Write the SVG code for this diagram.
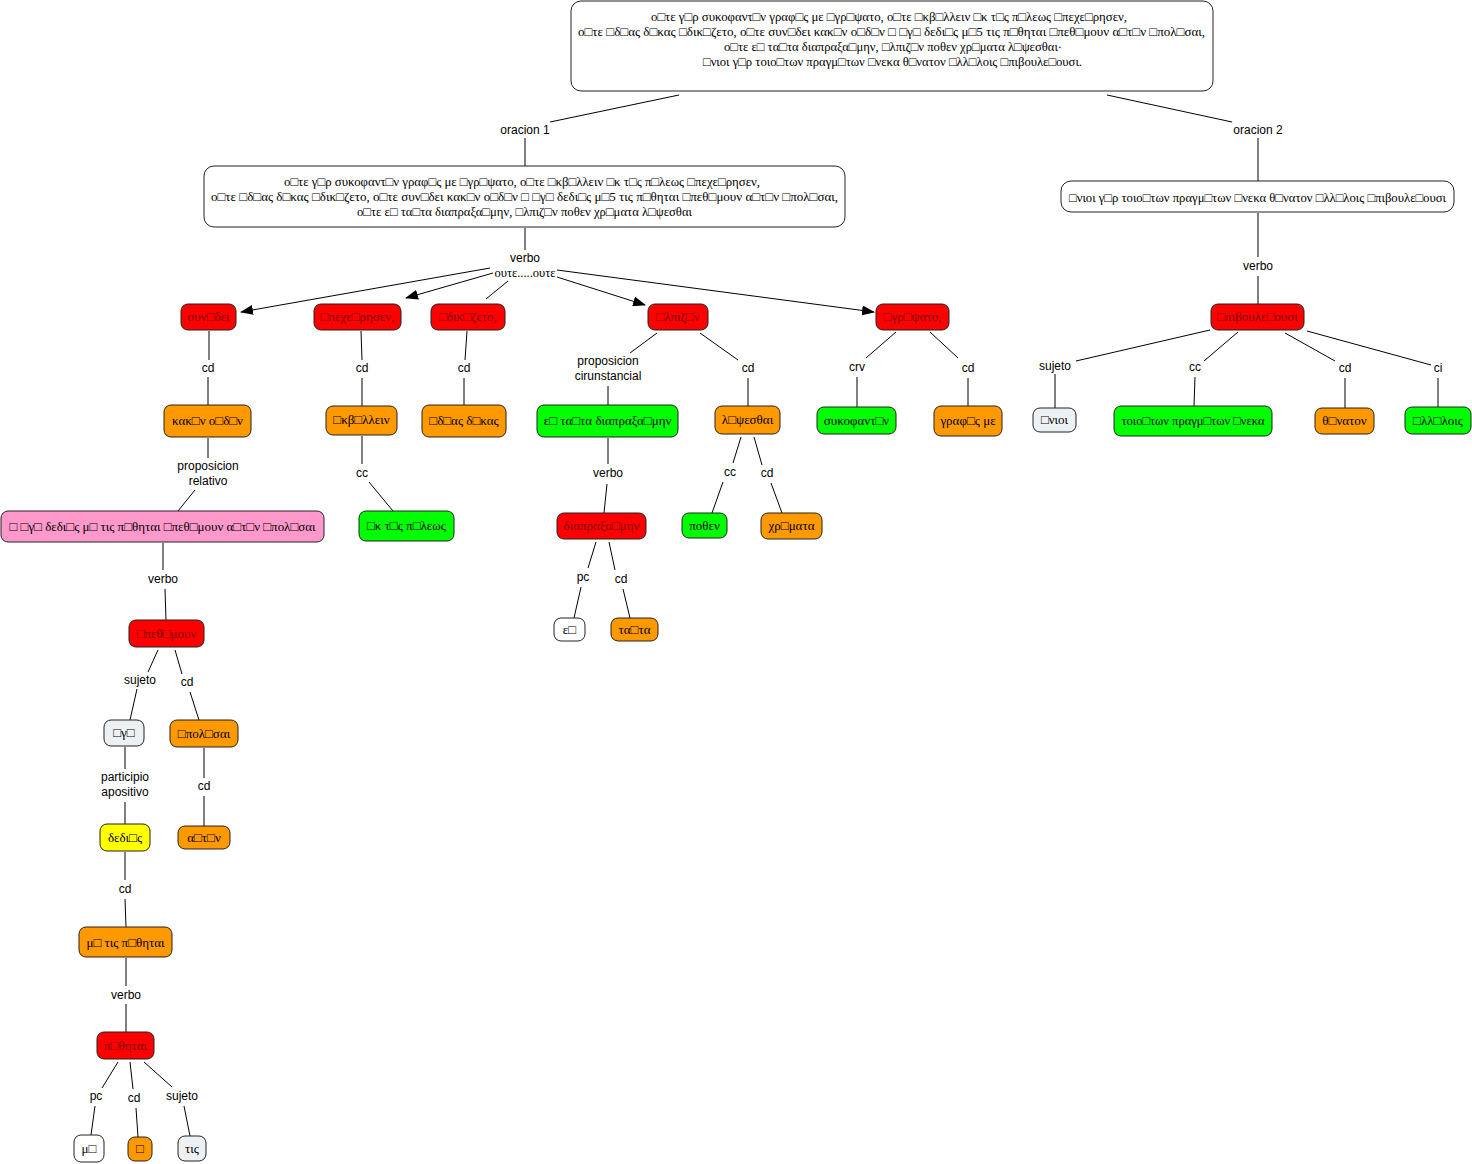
<svg xmlns="http://www.w3.org/2000/svg" width="1472" height="1164" viewBox="0 0 1472 1164">
<style>
.n{stroke:#222;stroke-width:1}
.big{fill:#fff}
.red{fill:#ff0000}
.org{fill:#ff9900}
.grn{fill:#00ff00}
.pnk{fill:#ff99cc}
.yel{fill:#ffff00}
.lgt{fill:#edf1f4}
.wht{fill:#fff}
.t{font-family:"Liberation Serif","Times New Roman",serif;font-size:13px;fill:#000;text-anchor:middle}
.tb{font-family:"Liberation Serif","Times New Roman",serif;font-size:12.5px;fill:#000;text-anchor:middle}
.tr{font-family:"Liberation Serif","Times New Roman",serif;font-size:13px;fill:#7a0000;text-anchor:middle}
.l{font-family:"Liberation Sans",Arial,sans-serif;font-size:12px;fill:#000;text-anchor:middle}
.ls{font-family:"Liberation Serif","Times New Roman",serif;font-size:12.5px;fill:#000;text-anchor:middle}
.c line{stroke:#000;stroke-width:1}
</style>
<defs>
<marker id="ah" markerWidth="13" markerHeight="10" refX="12" refY="5" orient="auto" markerUnits="userSpaceOnUse">
<path d="M0,0 L13,5 L0,10 z" fill="#000"/>
</marker>
</defs>

<g class="c" id="connectors">
<line x1="679" y1="95" x2="550" y2="122"/>
<line x1="525" y1="138" x2="525" y2="166"/>
<line x1="1107" y1="95" x2="1232" y2="122"/>
<line x1="1258" y1="138" x2="1258" y2="181"/>
<line x1="525" y1="228" x2="525" y2="250"/>
<line x1="490" y1="268" x2="241" y2="312" marker-end="url(#ah)"/>
<line x1="493" y1="273" x2="406" y2="298" marker-end="url(#ah)"/>
<line x1="508" y1="281" x2="486" y2="299"/>
<line x1="557" y1="277" x2="645" y2="305" marker-end="url(#ah)"/>
<line x1="557" y1="270" x2="874" y2="312" marker-end="url(#ah)"/>
<line x1="209" y1="331" x2="209" y2="360"/>
<line x1="208" y1="377" x2="208" y2="405"/>
<line x1="208" y1="438" x2="208" y2="458"/>
<line x1="195" y1="490" x2="178" y2="511"/>
<line x1="163" y1="543" x2="163" y2="570"/>
<line x1="165" y1="589" x2="166" y2="620"/>
<line x1="158" y1="650" x2="148" y2="672"/>
<line x1="137" y1="689" x2="130" y2="720"/>
<line x1="175" y1="650" x2="182" y2="674"/>
<line x1="190" y1="692" x2="199" y2="720"/>
<line x1="125" y1="747" x2="125" y2="769"/>
<line x1="125" y1="802" x2="125" y2="824"/>
<line x1="204" y1="748" x2="204" y2="778"/>
<line x1="204" y1="796" x2="204" y2="826"/>
<line x1="125" y1="852" x2="125" y2="880"/>
<line x1="125" y1="899" x2="126" y2="927"/>
<line x1="126" y1="958" x2="126" y2="986"/>
<line x1="126" y1="1004" x2="126" y2="1032"/>
<line x1="118" y1="1062" x2="102" y2="1088"/>
<line x1="95" y1="1106" x2="91" y2="1135"/>
<line x1="130" y1="1062" x2="133" y2="1089"/>
<line x1="136" y1="1108" x2="138" y2="1137"/>
<line x1="144" y1="1062" x2="172" y2="1087"/>
<line x1="184" y1="1106" x2="190" y2="1136"/>
<line x1="361" y1="331" x2="362" y2="360"/>
<line x1="362" y1="378" x2="362" y2="406"/>
<line x1="362" y1="436" x2="362" y2="464"/>
<line x1="369" y1="482" x2="393" y2="511"/>
<line x1="467" y1="331" x2="465" y2="360"/>
<line x1="464" y1="378" x2="464" y2="405"/>
<line x1="657" y1="333" x2="630" y2="353"/>
<line x1="608" y1="386" x2="608" y2="405"/>
<line x1="700" y1="333" x2="738" y2="360"/>
<line x1="748" y1="378" x2="748" y2="406"/>
<line x1="608" y1="438" x2="608" y2="464"/>
<line x1="607" y1="484" x2="604" y2="513"/>
<line x1="596" y1="542" x2="588" y2="568"/>
<line x1="581" y1="587" x2="574" y2="618"/>
<line x1="609" y1="542" x2="615" y2="570"/>
<line x1="623" y1="589" x2="630" y2="618"/>
<line x1="741" y1="437" x2="733" y2="463"/>
<line x1="723" y1="482" x2="712" y2="513"/>
<line x1="754" y1="437" x2="762" y2="465"/>
<line x1="771" y1="483" x2="782" y2="513"/>
<line x1="896" y1="332" x2="866" y2="358"/>
<line x1="857" y1="377" x2="857" y2="407"/>
<line x1="930" y1="332" x2="958" y2="358"/>
<line x1="968" y1="378" x2="968" y2="406"/>
<line x1="1258" y1="213" x2="1258" y2="257"/>
<line x1="1258" y1="276" x2="1258" y2="304"/>
<line x1="1210" y1="330" x2="1076" y2="361"/>
<line x1="1055" y1="374" x2="1055" y2="408"/>
<line x1="1238" y1="332" x2="1204" y2="361"/>
<line x1="1195" y1="377" x2="1194" y2="406"/>
<line x1="1285" y1="333" x2="1335" y2="361"/>
<line x1="1345" y1="378" x2="1345" y2="408"/>
<line x1="1307" y1="331" x2="1431" y2="365"/>
<line x1="1438" y1="378" x2="1438" y2="407"/>
</g>

<g id="labels">
<text class="l" x="525" y="134">oracion 1</text>
<text class="l" x="1258" y="134">oracion 2</text>
<text class="l" x="525" y="262">verbo</text>
<text class="ls" x="525" y="277">ουτε.....ουτε</text>
<text class="l" x="208" y="372">cd</text>
<text class="l" x="208" y="470">proposicion</text>
<text class="l" x="208" y="485">relativo</text>
<text class="l" x="163" y="583">verbo</text>
<text class="l" x="140" y="684">sujeto</text>
<text class="l" x="187" y="686">cd</text>
<text class="l" x="125" y="781">participio</text>
<text class="l" x="125" y="796">apositivo</text>
<text class="l" x="204" y="790">cd</text>
<text class="l" x="125" y="893">cd</text>
<text class="l" x="126" y="999">verbo</text>
<text class="l" x="96" y="1100">pc</text>
<text class="l" x="134" y="1102">cd</text>
<text class="l" x="182" y="1100">sujeto</text>
<text class="l" x="362" y="372">cd</text>
<text class="l" x="362" y="477">cc</text>
<text class="l" x="464" y="372">cd</text>
<text class="l" x="608" y="365">proposicion</text>
<text class="l" x="608" y="380">cirunstancial</text>
<text class="l" x="748" y="372">cd</text>
<text class="l" x="608" y="477">verbo</text>
<text class="l" x="583" y="581">pc</text>
<text class="l" x="621" y="583">cd</text>
<text class="l" x="730" y="476">cc</text>
<text class="l" x="767" y="477">cd</text>
<text class="l" x="857" y="371">crv</text>
<text class="l" x="968" y="372">cd</text>
<text class="l" x="1258" y="270">verbo</text>
<text class="l" x="1055" y="370">sujeto</text>
<text class="l" x="1195" y="371">cc</text>
<text class="l" x="1345" y="372">cd</text>
<text class="l" x="1438" y="372">ci</text>
</g>

<g id="n-top">
<rect class="n big" x="571" y="1" width="642" height="90" rx="10"/>
<text class="tb" x="889" y="21" textLength="476" lengthAdjust="spacingAndGlyphs">ο□τε γ□ρ συκοφαντ□ν γραφ□ς με □γρ□ψατο, ο□τε □κβ□λλειν □κ τ□ς π□λεως □πεχε□ρησεν,</text>
<text class="tb" x="891.5" y="36" textLength="627" lengthAdjust="spacingAndGlyphs">ο□τε □δ□ας δ□κας □δικ□ζετο, ο□τε συν□δει κακ□ν ο□δ□ν □ □γ□ δεδι□ς μ□5 τις π□θηται □πεθ□μουν α□τ□ν □πολ□σαι,</text>
<text class="tb" x="893" y="51" textLength="338" lengthAdjust="spacingAndGlyphs">ο□τε ε□ τα□τα διαπραξα□μην, □λπιζ□ν ποθεν χρ□ματα λ□ψεσθαι·</text>
<text class="tb" x="892.5" y="66" textLength="379" lengthAdjust="spacingAndGlyphs">□νιοι γ□ρ τοιο□των πραγμ□των □νεκα θ□νατον □λλ□λοις □πιβουλε□ουσι.</text>
</g>

<g id="n-or1">
<rect class="n big" x="204" y="166" width="641" height="61" rx="10"/>
<text class="tb" x="522" y="186" textLength="476" lengthAdjust="spacingAndGlyphs">ο□τε γ□ρ συκοφαντ□ν γραφ□ς με □γρ□ψατο, ο□τε □κβ□λλειν □κ τ□ς π□λεως □πεχε□ρησεν,</text>
<text class="tb" x="524.5" y="201" textLength="627" lengthAdjust="spacingAndGlyphs">ο□τε □δ□ας δ□κας □δικ□ζετο, ο□τε συν□δει κακ□ν ο□δ□ν □ □γ□ δεδι□ς μ□5 τις π□θηται □πεθ□μουν α□τ□ν □πολ□σαι,</text>
<text class="tb" x="524.5" y="216" textLength="335" lengthAdjust="spacingAndGlyphs">ο□τε ε□ τα□τα διαπραξα□μην, □λπιζ□ν ποθεν χρ□ματα λ□ψεσθαι</text>
</g>

<g id="n-or2">
<rect class="n big" x="1061" y="181" width="393" height="31" rx="10"/>
<text class="tb" x="1257.5" y="202" textLength="377" lengthAdjust="spacingAndGlyphs">□νιοι γ□ρ τοιο□των πραγμ□των □νεκα θ□νατον □λλ□λοις □πιβουλε□ουσι</text>
</g>

<g id="n-synedei"><rect class="n red" x="181" y="304" width="55" height="26" rx="7"/><text class="tr" x="208.5" y="321">συν□δει</text></g>
<g id="n-kakon"><rect class="n org" x="164" y="405" width="87" height="32" rx="7"/><text class="t" x="207.5" y="425">κακ□ν ο□δ□ν</text></g>
<g id="n-rel"><rect class="n pnk" x="1" y="511" width="323" height="31" rx="7"/><text class="t" x="162.5" y="531" textLength="306" lengthAdjust="spacingAndGlyphs">□ □γ□ δεδι□ς μ□ τις π□θηται □πεθ□μουν α□τ□ν □πολ□σαι</text></g>
<g id="n-epethymoun"><rect class="n red" x="129" y="620" width="75" height="27" rx="7"/><text class="tr" x="166.5" y="638">□πεθ□μουν</text></g>
<g id="n-ego"><rect class="n lgt" x="104" y="720" width="40" height="26" rx="7"/><text class="t" x="124" y="737">□γ□</text></g>
<g id="n-apolesai"><rect class="n org" x="170" y="720" width="68" height="27" rx="7"/><text class="t" x="204" y="738">□πολ□σαι</text></g>
<g id="n-dedios"><rect class="n yel" x="100" y="824" width="50" height="27" rx="7"/><text class="t" x="125" y="842">δεδι□ς</text></g>
<g id="n-auton"><rect class="n org" x="178" y="826" width="52" height="23" rx="7"/><text class="t" x="204" y="842">α□τ□ν</text></g>
<g id="n-metis"><rect class="n org" x="79" y="927" width="93" height="30" rx="7"/><text class="t" x="125.5" y="947">μ□ τις π□θηται</text></g>
<g id="n-pythetai"><rect class="n red" x="97" y="1032" width="57" height="27" rx="7"/><text class="tr" x="125.5" y="1050">π□θηται</text></g>
<g id="n-me"><rect class="n wht" x="74" y="1135" width="30" height="27" rx="7"/><text class="t" x="89" y="1153">μ□</text></g>
<g id="n-o"><rect class="n org" x="128" y="1137" width="24" height="24" rx="7"/><text class="t" x="140" y="1153">□</text></g>
<g id="n-tis"><rect class="n lgt" x="178" y="1136" width="28" height="25" rx="7"/><text class="t" x="192" y="1153">τις</text></g>

<g id="n-apecheiresen"><rect class="n red" x="314" y="304" width="87" height="26" rx="7"/><text class="tr" x="357.5" y="321">□πεχε□ρησεν,</text></g>
<g id="n-ekballein"><rect class="n org" x="326" y="406" width="71" height="29" rx="7"/><text class="t" x="361.5" y="424">□κβ□λλειν</text></g>
<g id="n-ektes"><rect class="n grn" x="359" y="511" width="95" height="30" rx="7"/><text class="t" x="406.5" y="530">□κ τ□ς π□λεως</text></g>

<g id="n-edikazeto"><rect class="n red" x="431" y="304" width="74" height="26" rx="7"/><text class="tr" x="468" y="321">□δικ□ζετο,</text></g>
<g id="n-idias"><rect class="n org" x="422" y="405" width="84" height="32" rx="7"/><text class="t" x="464" y="425">□δ□ας δ□κας</text></g>

<g id="n-elpizon"><rect class="n red" x="648" y="304" width="60" height="26" rx="7"/><text class="tr" x="678" y="321">□λπιζ□ν</text></g>
<g id="n-eutauta"><rect class="n grn" x="537" y="405" width="141" height="32" rx="7"/><text class="t" x="607.5" y="425">ε□ τα□τα διαπραξα□μην</text></g>
<g id="n-diapraxaimen"><rect class="n red" x="557" y="513" width="89" height="26" rx="7"/><text class="tr" x="601.5" y="530">διαπραξα□μην</text></g>
<g id="n-eu"><rect class="n wht" x="554" y="618" width="31" height="23" rx="7"/><text class="t" x="569.5" y="634">ε□</text></g>
<g id="n-tauta"><rect class="n org" x="611" y="618" width="47" height="23" rx="7"/><text class="t" x="634.5" y="634">τα□τα</text></g>
<g id="n-lepsesthai"><rect class="n org" x="715" y="406" width="65" height="28" rx="7"/><text class="t" x="747.5" y="424">λ□ψεσθαι</text></g>
<g id="n-pothen"><rect class="n grn" x="682" y="513" width="45" height="25" rx="7"/><text class="t" x="704.5" y="530">ποθεν</text></g>
<g id="n-chremata"><rect class="n org" x="761" y="513" width="61" height="26" rx="7"/><text class="t" x="791.5" y="530">χρ□ματα</text></g>

<g id="n-egrapsato"><rect class="n red" x="876" y="304" width="73" height="26" rx="7"/><text class="tr" x="912.5" y="321">□γρ□ψατο,</text></g>
<g id="n-sykophanton"><rect class="n grn" x="817" y="407" width="79" height="27" rx="7"/><text class="t" x="856.5" y="425">συκοφαντ□ν</text></g>
<g id="n-graphas"><rect class="n org" x="934" y="406" width="68" height="30" rx="7"/><text class="t" x="968" y="425">γραφ□ς με</text></g>

<g id="n-epibouleuousi"><rect class="n red" x="1211" y="304" width="93" height="26" rx="7"/><text class="tr" x="1257.5" y="321">□πιβουλε□ουσι</text></g>
<g id="n-enioi"><rect class="n lgt" x="1033" y="408" width="43" height="24" rx="7"/><text class="t" x="1054.5" y="424">□νιοι</text></g>
<g id="n-toiouton"><rect class="n grn" x="1114" y="406" width="158" height="30" rx="7"/><text class="t" x="1193" y="425" textLength="143" lengthAdjust="spacingAndGlyphs">τοιο□των πραγμ□των □νεκα</text></g>
<g id="n-thanaton"><rect class="n org" x="1315" y="408" width="59" height="26" rx="7"/><text class="t" x="1344.5" y="425">θ□νατον</text></g>
<g id="n-allelois"><rect class="n grn" x="1405" y="407" width="66" height="27" rx="7"/><text class="t" x="1438" y="425">□λλ□λοις</text></g>
</svg>
